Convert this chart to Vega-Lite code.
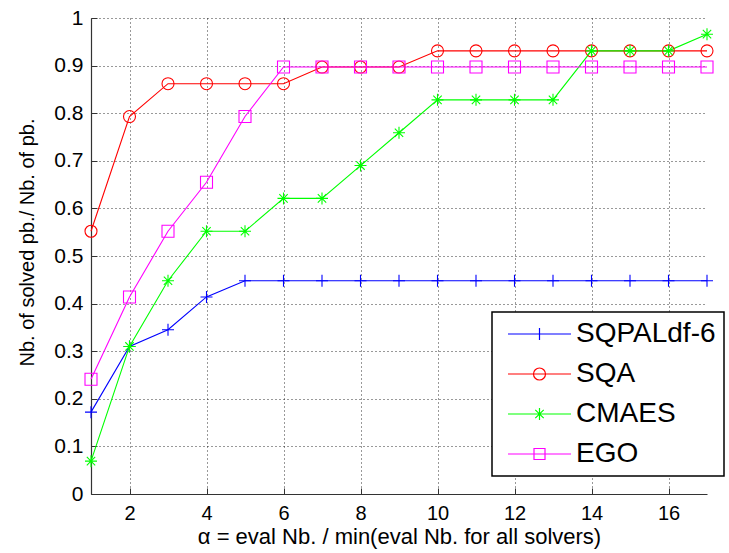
{
  "$schema": "https://vega.github.io/schema/vega-lite/v6.json",
  "width": 616,
  "height": 476,
  "autosize": {"type": "none"},
  "padding": {"left": 91, "top": 18, "right": 22, "bottom": 59},
  "background": "white",
  "config": {
    "view": {"stroke": null},
    "font": "Liberation Sans",
    "axis": {
      "labelFont": "Liberation Sans",
      "titleFont": "Liberation Sans",
      "labelColor": "black",
      "titleColor": "black",
      "titleFontWeight": "normal",
      "domainColor": "#333333",
      "domainWidth": 1.2,
      "tickColor": "#333333",
      "gridColor": "#000000",
      "gridOpacity": 0.8,
      "gridDash": [1, 3],
      "gridWidth": 1
    }
  },
  "data": {
    "values": [
      {"x": 1, "y": 0.172, "s": "SQPALdf-6"},
      {"x": 2, "y": 0.310, "s": "SQPALdf-6"},
      {"x": 3, "y": 0.345, "s": "SQPALdf-6"},
      {"x": 4, "y": 0.414, "s": "SQPALdf-6"},
      {"x": 5, "y": 0.448, "s": "SQPALdf-6"},
      {"x": 6, "y": 0.448, "s": "SQPALdf-6"},
      {"x": 7, "y": 0.448, "s": "SQPALdf-6"},
      {"x": 8, "y": 0.448, "s": "SQPALdf-6"},
      {"x": 9, "y": 0.448, "s": "SQPALdf-6"},
      {"x": 10, "y": 0.448, "s": "SQPALdf-6"},
      {"x": 11, "y": 0.448, "s": "SQPALdf-6"},
      {"x": 12, "y": 0.448, "s": "SQPALdf-6"},
      {"x": 13, "y": 0.448, "s": "SQPALdf-6"},
      {"x": 14, "y": 0.448, "s": "SQPALdf-6"},
      {"x": 15, "y": 0.448, "s": "SQPALdf-6"},
      {"x": 16, "y": 0.448, "s": "SQPALdf-6"},
      {"x": 17, "y": 0.448, "s": "SQPALdf-6"},
      {"x": 1, "y": 0.552, "s": "SQA"},
      {"x": 2, "y": 0.793, "s": "SQA"},
      {"x": 3, "y": 0.862, "s": "SQA"},
      {"x": 4, "y": 0.862, "s": "SQA"},
      {"x": 5, "y": 0.862, "s": "SQA"},
      {"x": 6, "y": 0.862, "s": "SQA"},
      {"x": 7, "y": 0.897, "s": "SQA"},
      {"x": 8, "y": 0.897, "s": "SQA"},
      {"x": 9, "y": 0.897, "s": "SQA"},
      {"x": 10, "y": 0.931, "s": "SQA"},
      {"x": 11, "y": 0.931, "s": "SQA"},
      {"x": 12, "y": 0.931, "s": "SQA"},
      {"x": 13, "y": 0.931, "s": "SQA"},
      {"x": 14, "y": 0.931, "s": "SQA"},
      {"x": 15, "y": 0.931, "s": "SQA"},
      {"x": 16, "y": 0.931, "s": "SQA"},
      {"x": 17, "y": 0.931, "s": "SQA"},
      {"x": 1, "y": 0.069, "s": "CMAES"},
      {"x": 2, "y": 0.310, "s": "CMAES"},
      {"x": 3, "y": 0.448, "s": "CMAES"},
      {"x": 4, "y": 0.552, "s": "CMAES"},
      {"x": 5, "y": 0.552, "s": "CMAES"},
      {"x": 6, "y": 0.621, "s": "CMAES"},
      {"x": 7, "y": 0.621, "s": "CMAES"},
      {"x": 8, "y": 0.690, "s": "CMAES"},
      {"x": 9, "y": 0.759, "s": "CMAES"},
      {"x": 10, "y": 0.828, "s": "CMAES"},
      {"x": 11, "y": 0.828, "s": "CMAES"},
      {"x": 12, "y": 0.828, "s": "CMAES"},
      {"x": 13, "y": 0.828, "s": "CMAES"},
      {"x": 14, "y": 0.931, "s": "CMAES"},
      {"x": 15, "y": 0.931, "s": "CMAES"},
      {"x": 16, "y": 0.931, "s": "CMAES"},
      {"x": 17, "y": 0.966, "s": "CMAES"},
      {"x": 1, "y": 0.241, "s": "EGO"},
      {"x": 2, "y": 0.414, "s": "EGO"},
      {"x": 3, "y": 0.552, "s": "EGO"},
      {"x": 4, "y": 0.655, "s": "EGO"},
      {"x": 5, "y": 0.793, "s": "EGO"},
      {"x": 6, "y": 0.897, "s": "EGO"},
      {"x": 7, "y": 0.897, "s": "EGO"},
      {"x": 8, "y": 0.897, "s": "EGO"},
      {"x": 9, "y": 0.897, "s": "EGO"},
      {"x": 10, "y": 0.897, "s": "EGO"},
      {"x": 11, "y": 0.897, "s": "EGO"},
      {"x": 12, "y": 0.897, "s": "EGO"},
      {"x": 13, "y": 0.897, "s": "EGO"},
      {"x": 14, "y": 0.897, "s": "EGO"},
      {"x": 15, "y": 0.897, "s": "EGO"},
      {"x": 16, "y": 0.897, "s": "EGO"},
      {"x": 17, "y": 0.897, "s": "EGO"}
    ]
  },
  "encoding": {
    "x": {
      "field": "x",
      "type": "quantitative",
      "scale": {"domain": [1, 17], "nice": false, "zero": false},
      "axis": {
        "title": "α = eval Nb. / min(eval Nb. for all solvers)",
        "values": [2, 4, 6, 8, 10, 12, 14, 16],
        "labelFontSize": 20,
        "titleFontSize": 22,
        "tickSize": -6,
        "labelPadding": 15,
        "titlePadding": 3,
        "grid": true
      }
    },
    "y": {
      "field": "y",
      "type": "quantitative",
      "scale": {"domain": [0, 1], "nice": false},
      "axis": {
        "title": "Nb. of solved pb./ Nb. of pb.",
        "values": [0, 0.1, 0.2, 0.3, 0.4, 0.5, 0.6, 0.7, 0.8, 0.9, 1],
        "format": "~g",
        "labelFontSize": 21,
        "titleFontSize": 20,
        "tickSize": -6,
        "labelPadding": 14,
        "titlePadding": 16,
        "titleY": 224,
        "grid": true
      }
    },
    "color": {
      "field": "s",
      "type": "nominal",
      "sort": ["SQPALdf-6", "SQA", "CMAES", "EGO"],
      "scale": {
        "domain": ["SQPALdf-6", "SQA", "CMAES", "EGO"],
        "range": ["#0000ff", "#ff0000", "#00ff00", "#ff00ff"]
      },
      "legend": {
        "orient": "none",
        "legendX": 401,
        "legendY": 294,
        "title": null,
        "padding": 8,
        "strokeColor": "black",
        "fillColor": "white",
        "cornerRadius": 0,
        "symbolSize": 400,
        "symbolOffset": 25.5,
        "symbolStrokeWidth": 1.2,
        "labelFont": "Liberation Sans",
        "labelFontSize": 28,
        "labelColor": "black",
        "labelOffset": 22.5,
        "rowPadding": 12,
        "encode": {
          "legend": {"update": {"strokeWidth": {"value": 1.5}}},
          "symbols": {
            "update": {
              "shape": {"signal": "datum.value === 'SQPALdf-6' ? 'M-3.15,0L3.15,0M0,-0.6L0,0.6' : datum.value === 'SQA' ? 'M-3.15,0L3.15,0M0.6,0A0.6,0.6 0 1,1 -0.6,0A0.6,0.6 0 1,1 0.6,0' : datum.value === 'CMAES' ? 'M-3.15,0L3.15,0M0,-0.6L0,0.6M-0.42,-0.42L0.42,0.42M-0.42,0.42L0.42,-0.42' : 'M-3.15,0L3.15,0M-0.55,-0.55L0.55,-0.55L0.55,0.55L-0.55,0.55Z'"},
              "fill": {"value": "transparent"},
              "strokeWidth": {"value": 1.2}
            }
          }
        }
      }
    }
  },
  "layer": [
    {
      "mark": {"type": "line", "strokeWidth": 1.1}
    },
    {
      "mark": {"type": "point", "filled": false, "strokeWidth": 1.1, "size": 144, "opacity": 1},
      "encoding": {
        "shape": {
          "field": "s",
          "type": "nominal",
          "scale": {
            "domain": ["SQA", "SQPALdf-6", "CMAES", "EGO"],
            "range": ["circle", "M-1,0L1,0M0,-1L0,1", "M-1,0L1,0M0,-1L0,1M-0.7,-0.7L0.7,0.7M-0.7,0.7L0.7,-0.7", "square"]
          },
          "legend": null
        }
      }
    }
  ]
}
